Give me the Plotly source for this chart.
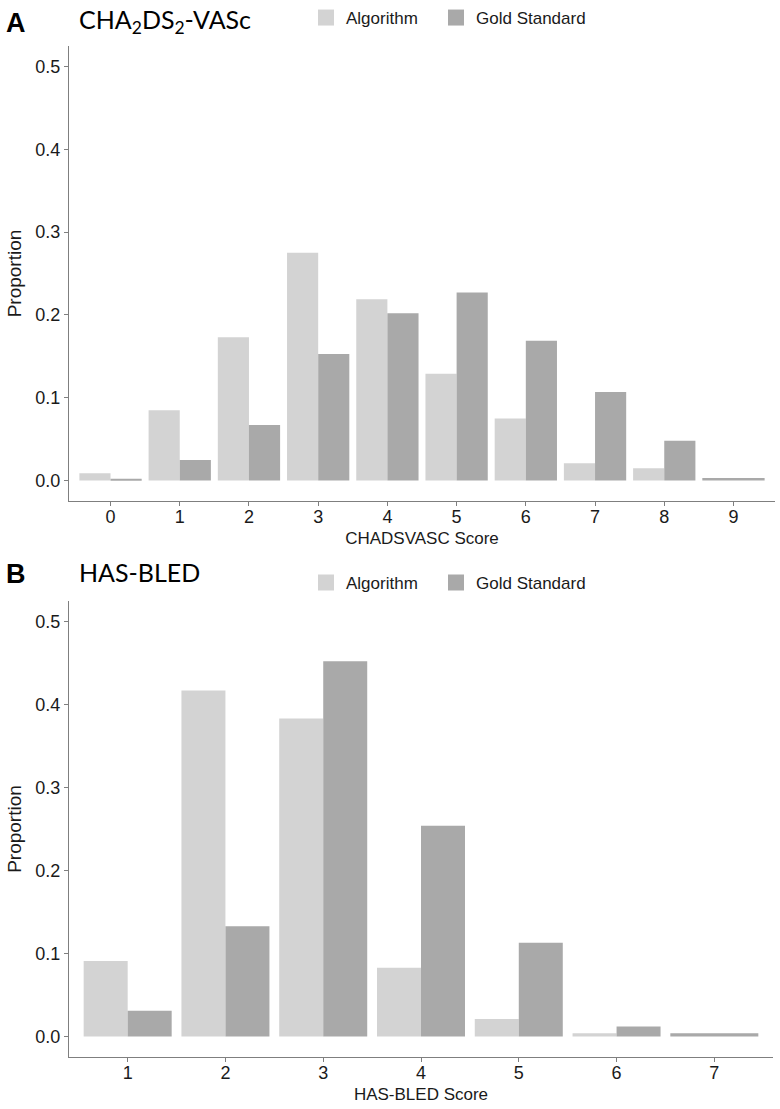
import plotly.graph_objects as go

# CHA2DS2-VASc panel
chads_scores = [0, 1, 2, 3, 4, 5, 6, 7, 8, 9]
chads_algorithm = [0.009, 0.085, 0.173, 0.275, 0.219, 0.129, 0.075, 0.021, 0.015, None]
chads_gold = [0.002, 0.025, 0.067, 0.153, 0.202, 0.227, 0.169, 0.107, 0.048, 0.003]

# HAS-BLED panel
hasbled_scores = [1, 2, 3, 4, 5, 6, 7]
hasbled_algorithm = [0.091, 0.417, 0.383, 0.083, 0.021, 0.004, None]
hasbled_gold = [0.031, 0.133, 0.452, 0.254, 0.113, 0.012, 0.004]

y_ticks = [0.0, 0.1, 0.2, 0.3, 0.4, 0.5]

LIGHT = "#D3D3D3"
DARK = "#A9A9A9"
AXIS = "#7f7f7f"
FONT = "Liberation Sans"
W, H = 780, 1109


def dodge(values, other, side):
    # ggplot-style dodge: a lone bar takes the full 0.9 width
    widths, offsets = [], []
    for v, o in zip(values, other):
        if o is None:
            widths.append(0.9)
            offsets.append(-0.45)
        else:
            widths.append(0.45)
            offsets.append(-0.45 if side == "left" else 0.0)
    return widths, offsets


def add_panel(fig, scores, algo, gold, xa, ya, legends):
    for name, vals, other, side, color, lg in [
        ("Algorithm", algo, gold, "left", LIGHT, legends[0]),
        ("Gold Standard", gold, algo, "right", DARK, legends[1]),
    ]:
        widths, offsets = dodge(vals, other, side)
        fig.add_trace(go.Bar(
            x=scores, y=vals, width=widths, offset=offsets,
            marker=dict(color=color, line=dict(width=0)),
            xaxis=xa, yaxis=ya, showlegend=False, name=name,
        ))
        fig.add_trace(go.Scatter(
            x=[None], y=[None], mode="markers", name=name,
            marker=dict(symbol="square", size=18, color=color),
            xaxis=xa, yaxis=ya, legend=lg, showlegend=True,
        ))


fig = go.Figure()
add_panel(fig, chads_scores, chads_algorithm, chads_gold, "x", "y", ["legend", "legend2"])
add_panel(fig, hasbled_scores, hasbled_algorithm, hasbled_gold, "x2", "y2", ["legend3", "legend4"])

axis_common = dict(
    showline=True, linecolor=AXIS, linewidth=1,
    ticks="outside", ticklen=4, tickcolor=AXIS,
    showgrid=False, zeroline=False,
    tickfont=dict(family=FONT, size=18, color="#1a1a1a"),
)


def legend_at(x_px, y_px):
    return dict(
        orientation="h", x=x_px / W, y=1 - y_px / H,
        xanchor="left", yanchor="middle",
        font=dict(family=FONT, size=17, color="#1a1a1a"),
        bgcolor="rgba(0,0,0,0)",
    )


fig.update_layout(
    width=W, height=H,
    margin=dict(l=0, r=0, t=0, b=0),
    paper_bgcolor="white", plot_bgcolor="white",
    barmode="overlay",
    font=dict(family=FONT, color="#1a1a1a"),
    xaxis=dict(domain=[69 / W, 775 / W], anchor="y", range=[-0.6, 9.6],
               tickvals=chads_scores, ticktext=[str(s) for s in chads_scores],
               ticklabelstandoff=-5,
               title=dict(text="CHADSVASC Score", font=dict(size=17), standoff=6),
               **axis_common),
    yaxis=dict(domain=[1 - 498 / H, 1 - 40 / H], anchor="x", range=[-0.025, 0.525],
               tickvals=y_ticks, tickformat=".1f",
               title=dict(text="Proportion", font=dict(size=19), standoff=8),
               **axis_common),
    xaxis2=dict(domain=[69 / W, 773 / W], anchor="y2", range=[0.4, 7.6],
                tickvals=hasbled_scores, ticktext=[str(s) for s in hasbled_scores],
                ticklabelstandoff=-5,
                title=dict(text="HAS-BLED Score", font=dict(size=17), standoff=6),
                **axis_common),
    yaxis2=dict(domain=[1 - 1057 / H, 1 - 598 / H], anchor="x2", range=[-0.025, 0.525],
                tickvals=y_ticks, tickformat=".1f",
                title=dict(text="Proportion", font=dict(size=19), standoff=8),
                **axis_common),
    legend=legend_at(306, 12),
    legend2=legend_at(436, 12),
    legend3=legend_at(306, 580),
    legend4=legend_at(436, 580),
)

annotations = [
    dict(text="<b>A</b>", x=4, y=17, size=27, family=FONT),
    dict(text="CHA<sub>2</sub>DS<sub>2</sub>-VASc", x=77, y=15, size=25, family="Lato"),
    dict(text="<b>B</b>", x=4, y=571, size=27, family=FONT),
    dict(text="HAS-BLED", x=77, y=569, size=25, family="Lato"),
]
for a in annotations:
    fig.add_annotation(
        text=a["text"], xref="paper", yref="paper",
        x=a["x"] / W, y=1 - a["y"] / H,
        xanchor="left", yanchor="middle", showarrow=False,
        font=dict(family=a["family"], size=a["size"], color="black"),
    )

# drop the default page margin so the figure fills the window exactly
fig.write_html("out.html", config={"displayModeBar": False},
               post_script="document.body.style.margin='0px';")
